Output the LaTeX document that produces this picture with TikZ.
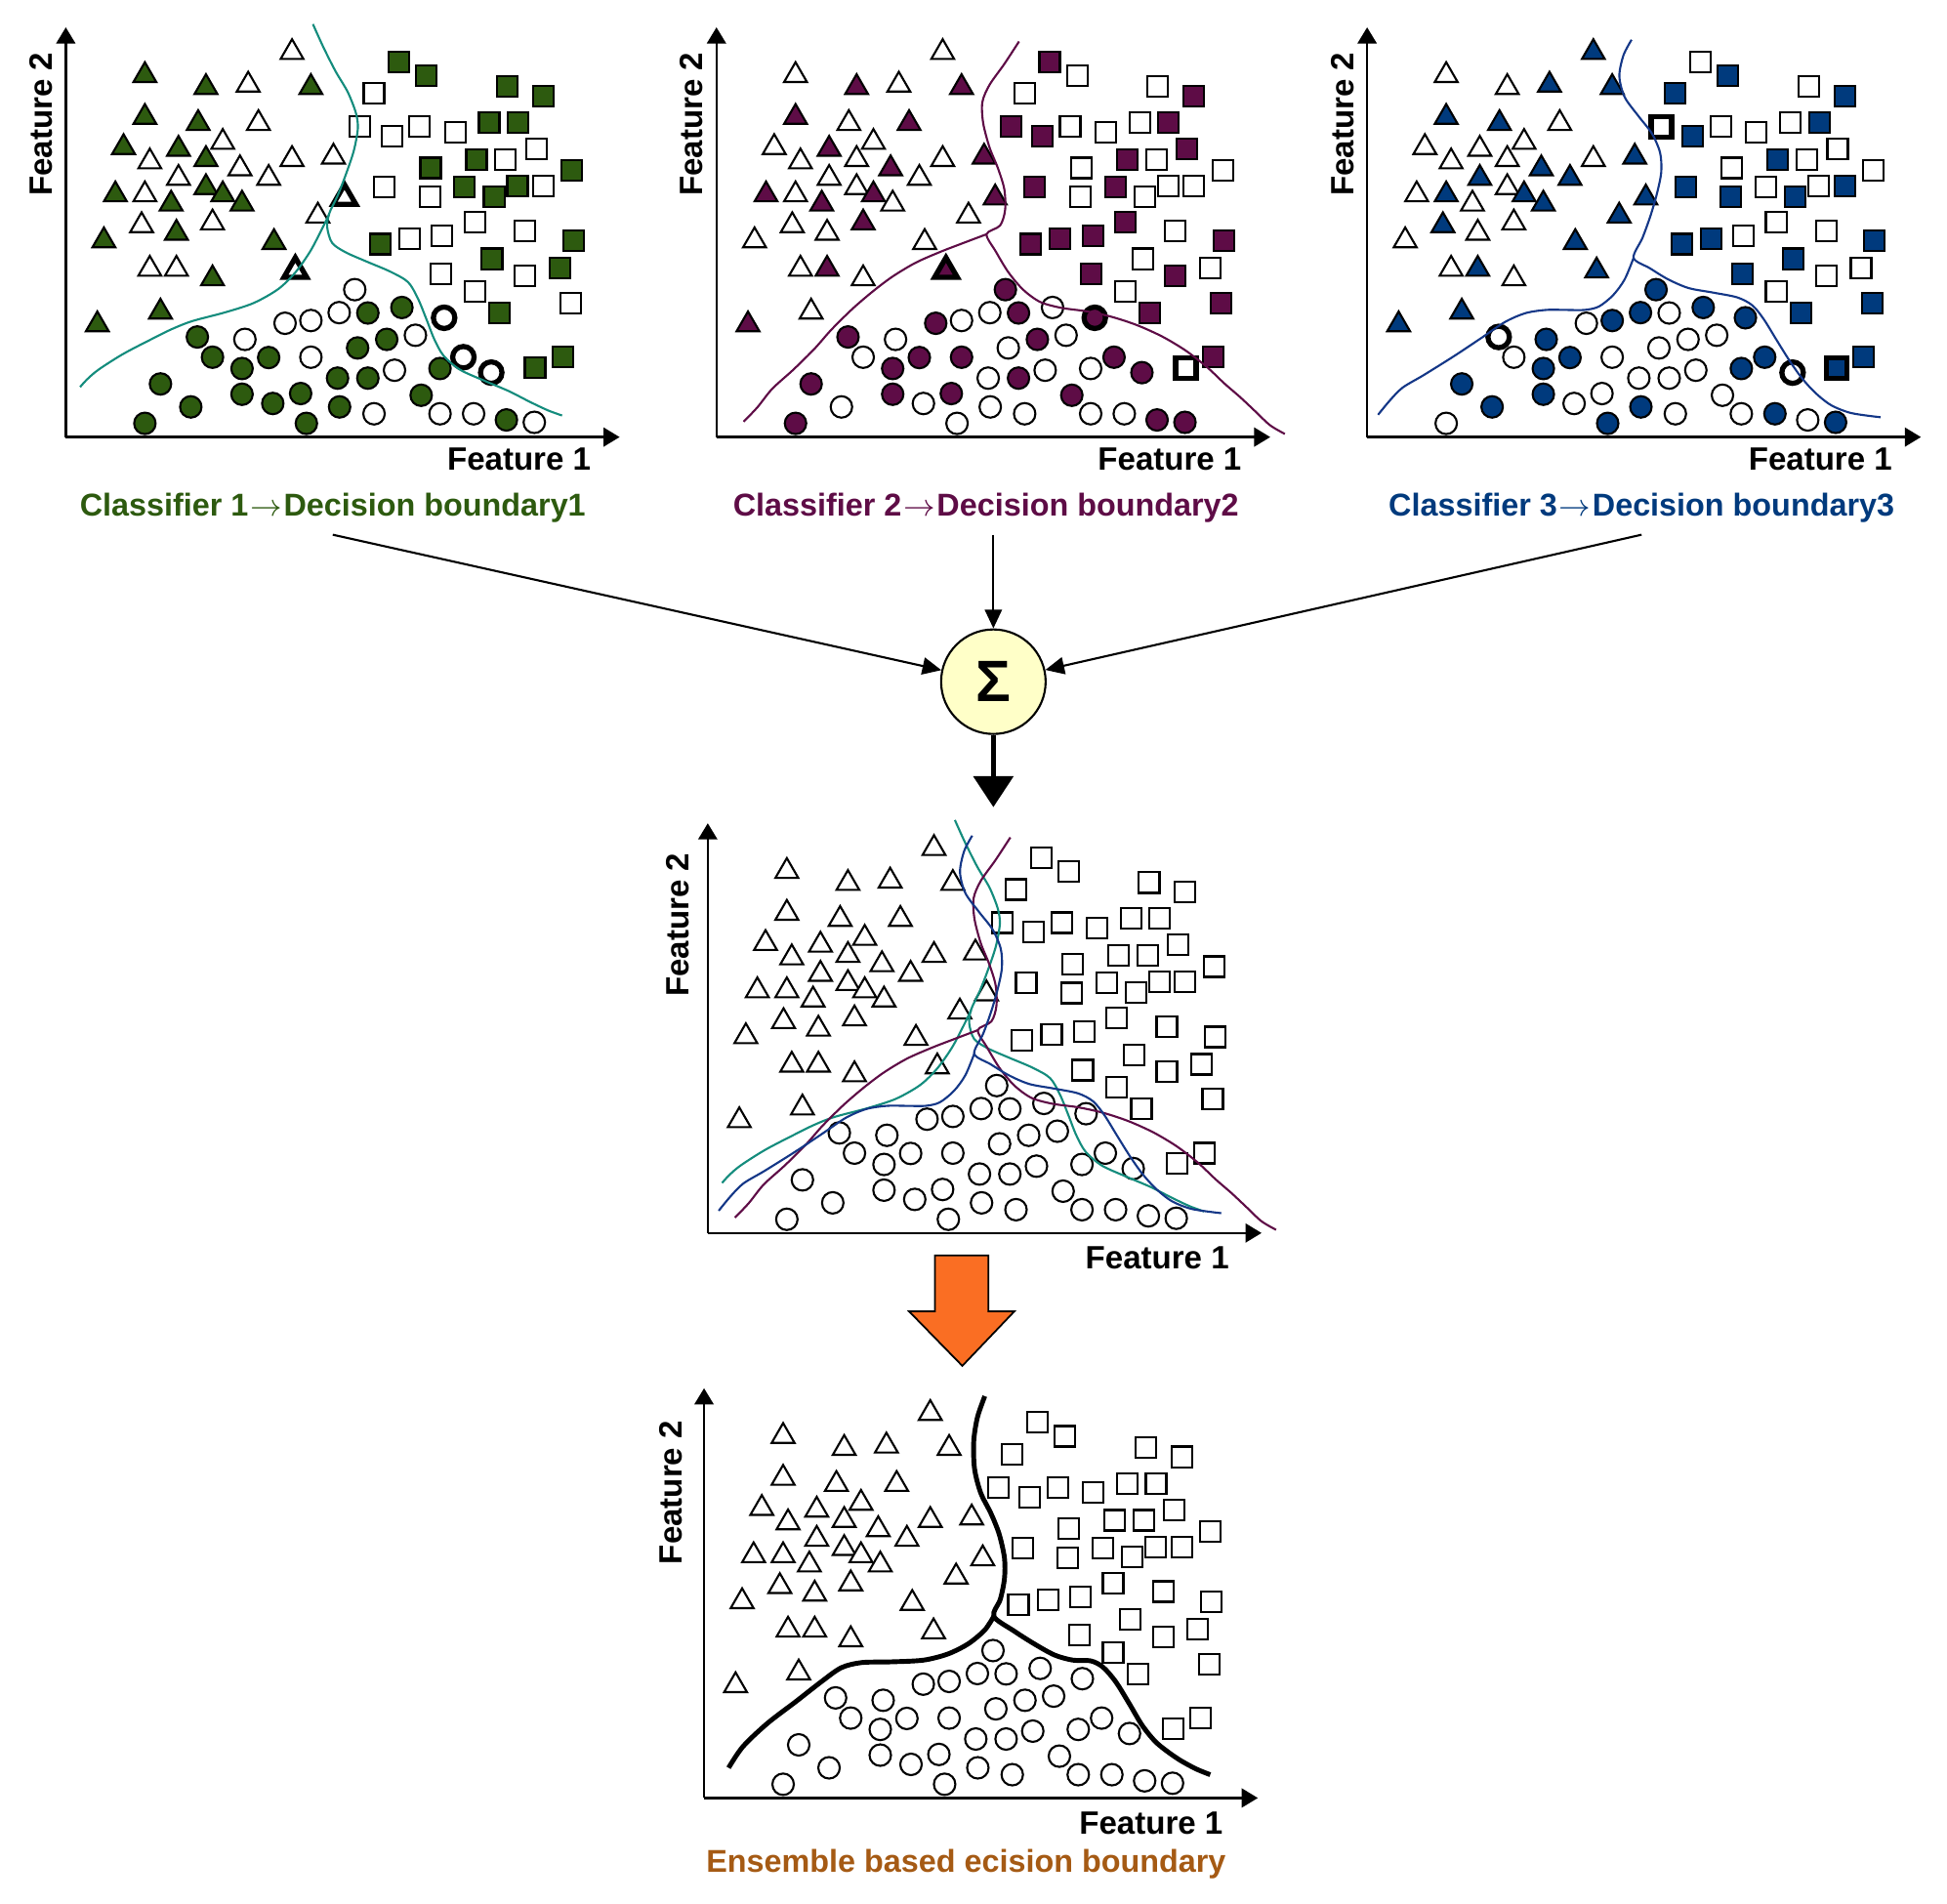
\documentclass[tikz,border=0pt]{standalone}
\usepackage{fontspec}
\setmainfont{Liberation Sans}
\usetikzlibrary{arrows.meta,shapes.geometric}

\definecolor{grn}{RGB}{45,90,15}
\definecolor{plum}{RGB}{94,12,70}
\definecolor{blu}{RGB}{0,58,125}
\definecolor{tealc}{RGB}{20,140,125}
\definecolor{bluc}{RGB}{20,55,135}
\definecolor{sumfill}{RGB}{255,255,200}
\definecolor{orng}{RGB}{250,110,35}
\definecolor{brwn}{RGB}{165,90,20}
\colorlet{panelcol}{white}

% one set of points for every panel: x/y/flag 1/flag 2/flag 3
% flag: 0 open, 1 filled, 2 heavy open, 3 heavy filled
\def\tridata{697/138/0/0/1, 338/205/1/0/0, 487/240/1/1/0, 590/233/0/0/1, 743/240/1/1/1,
338/327/1/1/1, 468/345/1/0/1, 615/345/0/1/0, 286/415/1/0/0, 420/420/1/1/0,
528/400/0/0/0, 350/457/0/0/0, 487/450/1/0/0, 697/450/0/0/0, 798/443/0/1/1,
570/477/0/1/1, 420/505/0/0/1, 640/505/0/0/1, 266/553/1/1/0, 338/553/0/0/1,
487/532/1/0/0, 528/553/1/1/1, 402/580/1/1/0, 575/580/1/0/1, 825/562/2/1/1,
330/643/0/0/1, 415/665/1/0/0, 503/635/0/1/0, 760/615/0/0/1, 238/687/1/0/0,
653/692/1/0/1, 350/770/0/0/0, 415/770/0/1/1, 503/798/1/0/0, 705/775/2/3/1,
376/895/1/0/1, 222/932/1/1/1}
\def\sqdata{958/165/1/1/0, 1025/205/1/0/1, 897/258/0/0/1, 1222/238/1/0/0, 1310/265/1/1/1,
863/355/0/1/2, 940/383/0/1/1, 1008/355/0/0/0, 1095/370/0/0/0, 1178/343/1/0/0,
1248/343/1/1/1, 1293/420/0/1/0, 1147/450/1/1/1, 1218/450/0/0/0, 1035/475/1/0/0,
1380/483/1/0/0, 922/530/0/1/1, 1033/560/0/0/1, 1118/530/1/1/0, 1190/558/1/0/1,
1247/528/1/0/0, 1310/528/0/0/1, 1143/633/0/1/0, 1265/658/0/0/0, 912/697/1/1/1,
984/682/0/1/1, 1063/673/0/1/0, 1383/688/1/1/1, 1185/740/1/0/1, 1060/785/0/1/1,
1265/790/0/1/0, 1350/768/1/0/0, 1143/835/0/0/0, 1203/898/1/1/1, 1377/870/0/1/1,
1290/1058/1/2/3, 1357/1027/1/1/1}
\def\circdata{850/830/0/1/1, 680/928/0/1/0, 743/920/0/0/1, 812/897/0/0/1, 882/898/1/1/0,
965/882/1/0/1, 1068/912/2/3/1, 466/968/1/1/2, 582/975/0/0/1, 928/975/1/1/0,
998/963/0/0/0, 857/1000/1/0/0, 503/1027/1/0/0, 640/1028/1/1/1, 743/1027/0/1/0,
575/1060/1/1/1, 808/1088/1/0/0, 882/1088/1/1/0, 947/1065/0/0/0, 1058/1060/1/0/1,
1115/1027/2/1/1, 1183/1072/2/1/2, 376/1105/1/1/1, 575/1135/1/1/1, 718/1133/1/1/0,
650/1162/1/0/0, 813/1172/1/0/1, 450/1172/1/0/1, 1012/1138/1/1/0, 897/1192/0/0/0,
338/1220/1/1/0, 732/1220/1/0/1, 1058/1192/0/0/0, 1140/1192/0/0/1, 1220/1210/1/1/0,
1288/1217/0/1/1}

\newcommand\datapt[4]{%
  \ifcase#2\relax \node[#1] at (#3,#4) {};
  \or \node[#1,full] at (#3,#4) {};
  \or \node[#1,heavy] at (#3,#4) {};
  \or \node[#1,full,heavy] at (#3,#4) {};
  \fi}
\newcommand\toarrow{\kern0.5pt$\rightarrow$\kern0.5pt}

\tikzset{
  mk/.style={draw=black, fill=white, inner sep=0pt, outer sep=0pt, line width=0.6pt},
  tri/.style={mk, regular polygon, regular polygon sides=3, minimum size=0.27cm},
  sq/.style={mk, rectangle, minimum size=0.21cm},
  circ/.style={mk, circle, minimum size=0.22cm},
  full/.style={fill=panelcol},
  heavy/.style={line width=1.5pt},
  axis/.style={line width=0.7pt, -{Triangle[length=4.7pt,width=5.5pt]}},
  feat/.style={font=\fontsize{9.4}{11}\selectfont\bfseries},
  cls/.style={font=\fontsize{9.2}{11}\selectfont\bfseries},
  bnd/.style={line width=0.6pt},
  link/.style={line width=0.6pt, -{Triangle[length=5.5pt,width=5pt]}},
  framedata/.style={shift={(-47.9,-347.9)}, x=0.0042013cm, y=-0.003506cm},
  frameone/.style={shift={(-52.62,-350.77)}, x=0.0041826cm, y=-0.0035544cm},
  frametwo/.style={shift={(-56.99,-350.77)}, x=0.0043136cm, y=-0.0035544cm},
  framethree/.style={shift={(-47.56,-350.77)}, x=0.0041712cm, y=-0.0035544cm}
}

\begin{document}
\begin{tikzpicture}[x=0.012717cm, y=-0.012717cm]
\useasboundingbox (0,0) rectangle (1568,1533);

% classifier 1
\begin{scope}[shift={(53,352)}]
\colorlet{panelcol}{grn}
\begin{scope}[framedata]
\foreach \x/\y/\fa/\fb/\fc in \tridata {\datapt{tri}{\fa}{\x}{\y}}
\foreach \x/\y/\fa/\fb/\fc in \sqdata {\datapt{sq}{\fa}{\x}{\y}}
\foreach \x/\y/\fa/\fb/\fc in \circdata {\datapt{circ}{\fa}{\x}{\y}}
\end{scope}
\draw[axis] (0,0) -- (0,-330);
\draw[axis] (0,0) -- (446,0);
\node[feat] (fxone) at (365,18) {Feature 1};
\node[feat, rotate=90] (fyone) at (-20,-252) {Feature 2};
\end{scope}

% classifier 2
\begin{scope}[shift={(577,352)}]
\colorlet{panelcol}{plum}
\begin{scope}[framedata]
\foreach \x/\y/\fa/\fb/\fc in \tridata {\datapt{tri}{\fb}{\x}{\y}}
\foreach \x/\y/\fa/\fb/\fc in \sqdata {\datapt{sq}{\fb}{\x}{\y}}
\foreach \x/\y/\fa/\fb/\fc in \circdata {\datapt{circ}{\fb}{\x}{\y}}
\end{scope}
\draw[axis] (0,0) -- (0,-330);
\draw[axis] (0,0) -- (446,0);
\node[feat] (fxtwo) at (365,18) {Feature 1};
\node[feat, rotate=90] (fytwo) at (-20,-252) {Feature 2};
\end{scope}

% classifier 3
\begin{scope}[shift={(1101,352)}]
\colorlet{panelcol}{blu}
\begin{scope}[framedata]
\foreach \x/\y/\fa/\fb/\fc in \tridata {\datapt{tri}{\fc}{\x}{\y}}
\foreach \x/\y/\fa/\fb/\fc in \sqdata {\datapt{sq}{\fc}{\x}{\y}}
\foreach \x/\y/\fa/\fb/\fc in \circdata {\datapt{circ}{\fc}{\x}{\y}}
\end{scope}
\draw[axis] (0,0) -- (0,-330);
\draw[axis] (0,0) -- (446,0);
\node[feat] (fxthree) at (365,18) {Feature 1};
\node[feat, rotate=90] (fythree) at (-20,-252) {Feature 2};
\end{scope}

% all boundaries together
\begin{scope}[shift={(570,993)}]
\begin{scope}[framedata]
\foreach \x/\y/\fa/\fb/\fc in \tridata {\datapt{tri}{0}{\x}{\y}}
\foreach \x/\y/\fa/\fb/\fc in \sqdata {\datapt{sq}{0}{\x}{\y}}
\foreach \x/\y/\fa/\fb/\fc in \circdata {\datapt{circ}{0}{\x}{\y}}
\end{scope}
\draw[axis] (0,0) -- (0,-330);
\draw[axis] (0,0) -- (446,0);
\node[feat] (fxmid) at (362,20) {Feature 1};
\node[feat, rotate=90] (fymid) at (-24,-248) {Feature 2};
\end{scope}

% ensemble
\begin{scope}[shift={(567,1448)}]
\begin{scope}[framedata]
\foreach \x/\y/\fa/\fb/\fc in \tridata {\datapt{tri}{0}{\x}{\y}}
\foreach \x/\y/\fa/\fb/\fc in \sqdata {\datapt{sq}{0}{\x}{\y}}
\foreach \x/\y/\fa/\fb/\fc in \circdata {\datapt{circ}{0}{\x}{\y}}
\draw[line width=1.4pt] plot[smooth] coordinates {(830,88) (812,150) (803,220) (805,300) (820,370) (845,430) (865,490) (878,560) (878,620) (868,680) (852,730) (900,772) (950,810) (1000,843) (1045,858) (1088,860) (1118,878) (1150,922) (1185,990) (1215,1050) (1250,1100) (1300,1145) (1345,1175) (1380,1192)};
\draw[line width=1.4pt] plot[smooth] coordinates {(852,730) (830,770) (790,810) (740,840) (680,858) (600,863) (530,865) (480,880) (430,922) (370,978) (300,1042) (240,1110) (205,1172)};
\end{scope}
\draw[axis] (0,0) -- (0,-330);
\draw[axis] (0,0) -- (446,0);
\node[feat] (fxens) at (360,20) {Feature 1};
\node[feat, rotate=90] (fyens) at (-27,-246) {Feature 2};
\end{scope}

% boundaries of the three classifiers
\foreach \ox/\oy in {53/352, 570/993} {
\begin{scope}[shift={(\ox,\oy)}, frameone]
\draw[bnd, tealc] plot[smooth] coordinates {(765,65) (790,130) (820,200) (850,260) (870,320) (875,365) (865,430) (845,500) (825,560) (805,610) (800,650) (812,695) (845,722) (895,748) (955,778) (998,808) (1022,855) (1042,912) (1062,972) (1085,1020) (1125,1060) (1185,1092) (1245,1122) (1295,1152) (1340,1177) (1375,1192)};
\draw[bnd, tealc] plot[smooth] coordinates {(805,612) (785,660) (758,720) (722,780) (680,828) (620,868) (550,895) (470,920) (420,943) (370,972) (300,1015) (240,1060) (212,1088) (195,1110)};
\end{scope}
}
\foreach \ox/\oy in {577/352, 570/993} {
\begin{scope}[shift={(\ox,\oy)}, frametwo]
\draw[bnd, plum] plot[smooth] coordinates {(885,115) (850,180) (815,240) (798,290) (800,350) (815,420) (835,480) (850,540) (852,600) (840,645) (808,670) (830,720) (860,780) (895,830) (935,865) (985,882) (1045,892) (1105,908) (1165,932) (1225,965) (1280,1005) (1330,1052) (1372,1100) (1410,1140) (1445,1180) (1480,1220) (1515,1245)};
\draw[bnd, plum] plot[smooth] coordinates {(808,670) (760,692) (700,720) (640,752) (585,792) (538,835) (490,885) (440,945) (400,1000) (350,1060) (300,1115) (265,1168) (232,1210)};
\end{scope}
}
\foreach \ox/\oy in {1101/352, 570/993} {
\begin{scope}[shift={(\ox,\oy)}, framethree]
\draw[bnd, bluc] plot[smooth] coordinates {(795,110) (775,155) (765,215) (778,275) (812,330) (845,380) (865,435) (868,490) (858,550) (842,615) (822,680) (800,738) (840,768) (885,800) (935,825) (995,838) (1055,852) (1092,875) (1120,915) (1150,972) (1182,1032) (1212,1082) (1245,1125) (1285,1162) (1335,1185) (1407,1197)};
\draw[bnd, bluc] plot[smooth] coordinates {(800,738) (778,800) (750,845) (715,878) (680,888) (635,888) (585,888) (535,897) (485,922) (428,967) (360,1020) (285,1075) (232,1112) (200,1150) (172,1190)};
\end{scope}
}

% labels and the sum
\node[cls, text=grn] (labone) at (268,409) {Classifier 1\toarrow Decision boundary1};
\node[cls, text=plum] (labtwo) at (794,409) {Classifier 2\toarrow Decision boundary2};
\node[cls, text=blu] (labthree) at (1322,409) {Classifier 3\toarrow Decision boundary3};
\node[cls, text=brwn] (labens) at (778,1501) {Ensemble based ecision boundary};

\node[circle, draw, line width=0.6pt, fill=sumfill, minimum size=1.07cm, inner sep=0pt,
  font=\fontsize{17}{17}\selectfont\bfseries] (sum) at (800,549) {Σ};
\coordinate (midtop) at (800,650);

\draw[link] (labone.south) -- (sum);
\draw[link] (sum |- labtwo.south) -- (sum);
\draw[link] (labthree.south) -- (sum);
\draw[line width=1.3pt, -{Triangle[length=9pt,width=11.5pt]}] (sum) -- (midtop);

% block arrow
\draw[fill=orng, line width=0.5pt] (753,1011) -- (796,1011) -- (796,1056) -- (817,1056)
  -- (775,1100) -- (732,1056) -- (753,1056) -- cycle;
\end{tikzpicture}
\end{document}
